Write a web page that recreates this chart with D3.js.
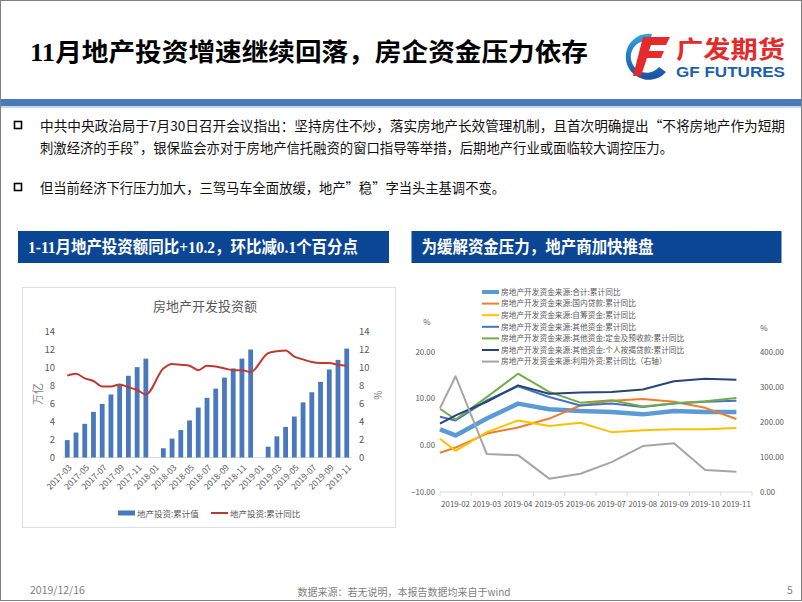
<!DOCTYPE html>
<html><head><meta charset="utf-8">
<script src="https://cdn.jsdelivr.net/npm/d3@7/dist/d3.min.js"></script>
<style>body{margin:0;background:#fff}svg{display:block}</style>
</head><body><svg id="s" width="802" height="602"></svg>
<script>
// ---------- DATA ----------
const invCats = ["2017-03","2017-04","2017-05","2017-06","2017-07","2017-08","2017-09","2017-10","2017-11","2017-12",
  "2018-01","2018-02","2018-03","2018-04","2018-05","2018-06","2018-07","2018-08","2018-09","2018-10","2018-11","2018-12",
  "2019-01","2019-02","2019-03","2019-04","2019-05","2019-06","2019-07","2019-08","2019-09","2019-10","2019-11"];
const invCum = [1.93,2.77,3.74,5.07,5.95,7.0,8.04,9.08,10.04,10.98,
  null,1.03,2.1,3.05,4.12,5.55,6.63,7.65,8.88,9.9,10.98,12.0,
  null,1.2,2.35,3.4,4.55,6.12,7.25,8.4,9.78,10.85,12.1];
const invYoy = [9.1,9.3,8.8,8.5,7.9,7.9,8.1,7.8,7.5,7.0,
  null,9.9,10.4,10.3,10.2,9.7,10.2,10.1,9.9,9.7,9.7,9.5,
  null,11.6,11.8,11.9,11.2,10.9,10.6,10.5,10.5,10.3,10.2];
const invTicks = [0,2,4,6,8,10,12,14];
const invLegend = ["地产投资:累计值","地产投资:累计同比"];

const fundMonths = ["2019-02","2019-03","2019-04","2019-05","2019-06","2019-07","2019-08","2019-09","2019-10","2019-11"];
const fundPos = [-0.5,0,1,2,3,4,5,6,7,8,9];
const fundTotal    = [3.4,2.1,5.7,8.9,7.7,7.3,7.1,6.6,7.3,7.1,7.1];
const fundLoan     = [-1.6,-0.5,2.5,3.8,5.7,8.5,9.5,9.9,9.3,8.0,5.6];
const fundSelf     = [1.4,-1.2,2.8,5.3,4.1,4.8,2.8,3.2,3.4,3.4,3.7];
const fundOther    = [6.1,5.3,9.6,12.6,10.3,8.5,8.9,8.2,8.9,9.3,9.5];
const fundDeposit  = [7.8,5.5,10.3,15.3,11.4,9.1,9.6,8.3,9.0,9.4,10.1];
const fundMortgage = [4.6,6.4,9.3,12.8,11.0,11.3,11.4,11.9,13.7,14.2,14.0];
const fundForeign  = [239,330,108,105,38,52,85,131,139,63,58];
const fundNames = ["房地产开发资金来源:合计:累计同比","房地产开发资金来源:国内贷款:累计同比","房地产开发资金来源:自筹资金:累计同比",
  "房地产开发资金来源:其他资金:累计同比","房地产开发资金来源:其他资金:定金及预收款:累计同比",
  "房地产开发资金来源:其他资金:个人按揭贷款:累计同比","房地产开发资金来源:利用外资:累计同比（右轴）"];
const fundLeftTicks = [-10,0,10,20];
const fundRightTicks = [0,100,200,300,400];

// ---------- DRAW ----------
const svg = d3.select("#s");
const CJK = '"Noto Sans CJK SC","Noto Sans",sans-serif';
const SER = '"Liberation Serif","Noto Sans CJK SC",serif';
const G = "#595959";

svg.append("rect").attr("x",0.5).attr("y",0.5).attr("width",801).attr("height",600)
  .attr("fill","#fff").attr("stroke","#808080");

// title
svg.append("text").attr("x",30).attr("y",61).attr("font-family",SER).attr("font-weight","bold")
  .attr("font-size",25).attr("textLength",558).attr("lengthAdjust","spacingAndGlyphs").attr("fill","#000")
  .text("11月地产投资增速继续回落，房企资金压力依存");

// logo
const logo = svg.append("g");
const grad = svg.append("defs").append("linearGradient").attr("id","lg").attr("x1","0").attr("y1","0").attr("x2","0").attr("y2","1");
grad.append("stop").attr("offset","0").attr("stop-color","#2aa6e0");
grad.append("stop").attr("offset","1").attr("stop-color","#1b4f9f");
logo.append("path").attr("d","M652 34 A23 23 0 1 0 666 72 L659 67 A16 16 0 1 1 650 41 Z").attr("fill","url(#lg)");
logo.append("path").attr("d","M643 37 L670 37 L666 45 L651 45 L649 51 L664 51 L661 58 L647 58 L641 76 L633 76 Z").attr("fill","#e42a2a");
logo.append("text").attr("x",676).attr("y",58).attr("font-family",CJK).attr("font-weight","bold").attr("font-size",24)
  .attr("fill","#e42a2a").attr("textLength",109).attr("lengthAdjust","spacingAndGlyphs").text("广发期货");
logo.append("text").attr("x",676).attr("y",77).attr("font-family",'"Liberation Sans",sans-serif').attr("font-weight","bold").attr("font-size",14)
  .attr("fill","#1b5fae").attr("textLength",109).attr("lengthAdjust","spacingAndGlyphs").text("GF FUTURES");

// band
svg.append("rect").attr("x",1).attr("y",99).attr("width",800).attr("height",7).attr("fill","#4a7ab5");
svg.append("rect").attr("x",1).attr("y",106).attr("width",800).attr("height",2).attr("fill","#c3d7ee");

// bullets
const bullets = [
  {y:131, t:"中共中央政治局于7月30日召开会议指出：坚持房住不炒，落实房地产长效管理机制，且首次明确提出“不将房地产作为短期", w:745, box:true},
  {y:153, t:"刺激经济的手段”，银保监会亦对于房地产信托融资的窗口指导等举措，后期地产行业或面临较大调控压力。", w:633, box:false},
  {y:193, t:"但当前经济下行压力加大，三驾马车全面放缓，地产”稳”字当头主基调不变。", w:465, box:true}
];
bullets.forEach(b=>{
  if(b.box) svg.append("rect").attr("x",14.5).attr("y",b.y-9.5).attr("width",7).attr("height",7)
    .attr("fill","none").attr("stroke","#000").attr("stroke-width",1.6);
  svg.append("text").attr("x",40).attr("y",b.y).attr("font-family",CJK).attr("font-size",13.5)
    .attr("fill","#111").attr("textLength",b.w).attr("lengthAdjust","spacingAndGlyphs").text(b.t);
});

// headers
[{x:18,w:371,tw:330,t:"1-11月地产投资额同比+10.2，环比减0.1个百分点",f:SER},
 {x:411.5,w:370,tw:232,t:"为缓解资金压力，地产商加快推盘",f:CJK}].forEach(h=>{
  svg.append("rect").attr("x",h.x).attr("y",231).attr("width",h.w).attr("height",32).attr("fill","#0b4694");
  svg.append("text").attr("x",h.x+10).attr("y",253).attr("font-family",h.f).attr("font-weight","bold")
    .attr("font-size",16.5).attr("fill","#fff").attr("textLength",h.tw).attr("lengthAdjust","spacingAndGlyphs").text(h.t);
});

// ---------- LEFT CHART ----------
const L = svg.append("g");
L.append("rect").attr("x",22.5).attr("y",287.5).attr("width",373).attr("height",240).attr("fill","none").attr("stroke","#e0e0e0");
L.append("text").attr("x",205).attr("y",311).attr("text-anchor","middle").attr("font-family",CJK).attr("font-size",13)
  .attr("fill",G).text("房地产开发投资额");
const xb = d3.scaleBand().domain(invCats).range([62.9,351.1]).paddingInner(0.45).paddingOuter(0.225);
const yl = d3.scaleLinear().domain([0,14]).range([457.5,331.5]);
const cx = c => xb(c)+xb.bandwidth()/2;
invTicks.forEach(v=>{
  L.append("text").attr("x",55).attr("y",yl(v)+3.3).attr("text-anchor","end").attr("font-family",CJK).attr("font-size",9.5).attr("fill",G).text(v);
  L.append("text").attr("x",359).attr("y",yl(v)+3.3).attr("text-anchor","start").attr("font-family",CJK).attr("font-size",9.5).attr("fill",G).text(v);
});
L.append("text").attr("transform","translate(42,394) rotate(-90)").attr("text-anchor","middle").attr("font-family",SER)
  .attr("font-size",11).attr("fill","#7f7f7f").text("万亿");
L.append("text").attr("transform","translate(374,395) rotate(90)").attr("text-anchor","middle").attr("font-family",CJK)
  .attr("font-size",10).attr("fill","#7f7f7f").text("%");
L.append("line").attr("x1",62.9).attr("x2",351.1).attr("y1",457.5).attr("y2",457.5).attr("stroke","#d9d9d9");
L.selectAll("rect.bar").data(invCats.map((c,i)=>({c,v:invCum[i]})).filter(d=>d.v!=null)).enter().append("rect")
  .attr("x",d=>xb(d.c)).attr("width",xb.bandwidth()).attr("y",d=>yl(d.v)).attr("height",d=>yl(0)-yl(d.v)).attr("fill","#4a78bd");
const yoyPts = invCats.map((c,i)=>({c,v:invYoy[i]})).filter(d=>d.v!=null);
L.append("path").datum(yoyPts).attr("fill","none").attr("stroke","#c0392f").attr("stroke-width",2).attr("stroke-linejoin","round")
  .attr("d",d3.line().x(d=>cx(d.c)).y(d=>yl(d.v)).curve(d3.curveMonotoneX));
invCats.forEach((c,i)=>{
  if(i%2===0){
    L.append("text").attr("transform",`translate(${cx(c)+3},466) rotate(-45)`).attr("text-anchor","end").attr("dy","0.35em")
      .attr("font-family",CJK).attr("font-size",8.5).attr("fill",G).text(c);
  }
});
L.append("rect").attr("x",118).attr("y",510.5).attr("width",17).attr("height",5).attr("fill","#4a78bd");
L.append("text").attr("x",137).attr("y",516.5).attr("font-family",CJK).attr("font-size",8.5).attr("fill",G).text(invLegend[0]);
L.append("line").attr("x1",211).attr("x2",228).attr("y1",513).attr("y2",513).attr("stroke","#c0392f").attr("stroke-width",2);
L.append("text").attr("x",230).attr("y",516.5).attr("font-family",CJK).attr("font-size",8.5).attr("fill",G).text(invLegend[1]);

// ---------- RIGHT CHART ----------
const R = svg.append("g");
const xr = d3.scaleLinear().domain([-0.5,9.5]).range([440,752]);
const yL = d3.scaleLinear().domain([-10,20]).range([492,351.7]);
const yR = d3.scaleLinear().domain([0,400]).range([492,351.7]);
const fmt = d3.format(".2f");
fundLeftTicks.forEach(v=>R.append("text").attr("x",435).attr("y",yL(v)+2.8).attr("text-anchor","end")
  .attr("font-family",CJK).attr("font-size",7.8).attr("fill",G).text(fmt(v)));
fundRightTicks.forEach(v=>R.append("text").attr("x",760).attr("y",yR(v)+2.8).attr("text-anchor","start")
  .attr("font-family",CJK).attr("font-size",7.8).attr("fill",G).text(fmt(v)));
R.append("text").attr("x",427).attr("y",325).attr("text-anchor","middle").attr("font-family",CJK).attr("font-size",8).attr("fill",G).text("%");
R.append("text").attr("x",764).attr("y",331).attr("text-anchor","middle").attr("font-family",CJK).attr("font-size",8).attr("fill",G).text("%");
R.append("line").attr("x1",440).attr("x2",752).attr("y1",492).attr("y2",492).attr("stroke","#d9d9d9");
d3.range(11).forEach(k=>R.append("line").attr("x1",xr(k-0.5)).attr("x2",xr(k-0.5)).attr("y1",492).attr("y2",496).attr("stroke","#d9d9d9"));
fundMonths.forEach((m,i)=>R.append("text").attr("x",xr(i)).attr("y",507).attr("text-anchor","middle")
  .attr("font-family",CJK).attr("font-size",7.8).attr("fill",G).text(m));
const series = [
  {v:fundTotal,c:"#5b9bd5",w:4.5,s:yL},
  {v:fundLoan,c:"#ed7d31",w:2,s:yL},
  {v:fundSelf,c:"#ffc000",w:2,s:yL},
  {v:fundOther,c:"#4472c4",w:2,s:yL},
  {v:fundDeposit,c:"#70ad47",w:2,s:yL},
  {v:fundMortgage,c:"#264478",w:2,s:yL},
  {v:fundForeign,c:"#a5a5a5",w:2,s:yR}
];
series.forEach(se=>{
  R.append("path").datum(se.v).attr("fill","none").attr("stroke",se.c).attr("stroke-width",se.w).attr("stroke-linejoin","round")
    .attr("d",d3.line().x((d,i)=>xr(fundPos[i])).y(d=>se.s(d)));
});
fundNames.forEach((n,i)=>{
  const y = 292+i*11.6;
  R.append("line").attr("x1",482).attr("x2",499).attr("y1",y).attr("y2",y).attr("stroke",series[i].c).attr("stroke-width",i===0?4:2);
  R.append("text").attr("x",501).attr("y",y+2.8).attr("font-family",CJK).attr("font-size",7.7).attr("fill",G).text(n);
});

// footer
svg.append("text").attr("x",30).attr("y",594).attr("font-family",CJK).attr("font-size",10.5).attr("fill","#7f7f7f").text("2019/12/16");
svg.append("text").attr("x",404).attr("y",596).attr("text-anchor","middle").attr("font-family",CJK).attr("font-size",10).attr("fill","#7f7f7f")
  .text("数据来源：若无说明，本报告数据均来自于wind");
svg.append("text").attr("x",787).attr("y",594).attr("font-family",CJK).attr("font-size",10.5).attr("fill","#7f7f7f").text("5");
</script></body></html>
